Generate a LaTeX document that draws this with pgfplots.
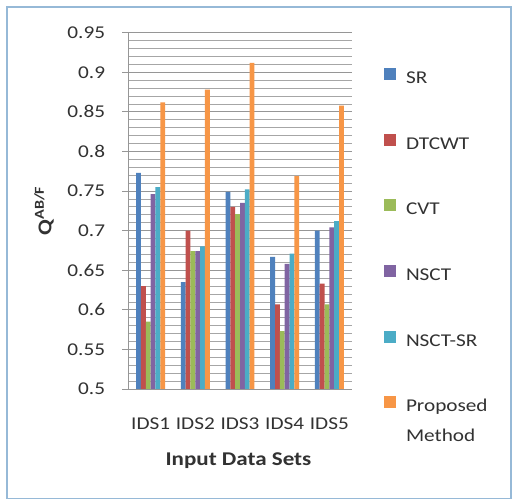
\documentclass[border=0pt]{standalone}
\usepackage{fontspec}
\setmainfont[FakeStretch=1.18]{Carlito}
\usepackage{pgfplots}
\pgfplotsset{compat=1.18}

\definecolor{cSR}{HTML}{4F81BD}
\definecolor{cDTCWT}{HTML}{C0504D}
\definecolor{cCVT}{HTML}{9BBB59}
\definecolor{cNSCT}{HTML}{8064A2}
\definecolor{cNSCTSR}{HTML}{4BACC6}
\definecolor{cProp}{HTML}{F79646}
\definecolor{frameblue}{RGB}{150,185,215}
\definecolor{gridgray}{RGB}{150,150,150}
\definecolor{textgray}{RGB}{50,50,50}

\newcommand{\chartfont}{\fontsize{18bp}{21bp}\selectfont}

\begin{document}
\begin{tikzpicture}[x=1bp,y=1bp]
\useasboundingbox (0,0) rectangle (517,501);
\fill[white] (0,0) rectangle (517,501);
\draw[frameblue, line width=1.3bp] (7,2.5) rectangle (511,494);
\begin{axis}[
  at={(128.3bp,112bp)}, anchor=south west,
  scale only axis, width=223.4bp, height=356.3bp,
  xmin=-0.5, xmax=4.5, ymin=0.5, ymax=0.95,
  xtick={0,1,2,3,4},
  xticklabels={IDS1,IDS2,IDS3,IDS4,IDS5},
  ytick={0.5,0.55,0.6,0.65,0.7,0.75,0.8,0.85,0.9,0.95},
  minor y tick num=4,
  ymajorgrids, yminorgrids,
  major grid style={draw=gridgray, line width=0.9bp},
  minor grid style={draw=gridgray!85, line width=0.8bp},
  axis x line*=bottom, axis y line*=left,
  axis line style={draw=gridgray, line width=0.9bp},
  xtick style={draw=none},
  ytick style={draw=gridgray, line width=0.9bp},
  tick align=outside, major tick length=6bp, minor tick length=0pt,
  /pgf/number format/assume math mode=true,
  yticklabel style={/pgf/number format/fixed, /pgf/number format/precision=2,
    font=\chartfont, text=textgray, anchor=east, inner sep=0pt, xshift=-17bp},
  xticklabel style={font=\chartfont, text=textgray, anchor=base, inner sep=0pt, yshift=-35bp},
  xlabel={\textbf{Input Data Sets}},
  xlabel style={font=\fontsize{19.5bp}{22bp}\selectfont, text=textgray,
    at={(axis description cs:0.493,-0.202)}, anchor=center},
  ylabel={\textbf{Q\textsuperscript{AB/F}}},
  ylabel style={font=\fontsize{19.5bp}{22bp}\selectfont, text=textgray,
    at={(axis description cs:-0.377,0.5)}, anchor=center},
  ybar, bar width=0.108,
  legend cell align=left,
  legend image code/.code={\fill[#1] (0bp,-1bp) rectangle (12bp,11bp);},
  legend style={draw=none, fill=none, inner sep=0pt, outer sep=0pt,
    at={(axis description cs:1.1446,0.901)}, anchor=north west,
    font=\chartfont, text=textgray, column sep=10bp, row sep=47.2bp,
    nodes={inner sep=0pt, text height=12bp, text depth=3bp}},
]
\addplot[fill=cSR, draw=none, bar shift=-0.27] coordinates
  {(0,0.773) (1,0.635) (2,0.749) (3,0.667) (4,0.700)};
\addplot[fill=cDTCWT, draw=none, bar shift=-0.162] coordinates
  {(0,0.630) (1,0.700) (2,0.730) (3,0.607) (4,0.633)};
\addplot[fill=cCVT, draw=none, bar shift=-0.054] coordinates
  {(0,0.585) (1,0.674) (2,0.721) (3,0.573) (4,0.607)};
\addplot[fill=cNSCT, draw=none, bar shift=0.054] coordinates
  {(0,0.746) (1,0.674) (2,0.735) (3,0.658) (4,0.704)};
\addplot[fill=cNSCTSR, draw=none, bar shift=0.162] coordinates
  {(0,0.755) (1,0.680) (2,0.752) (3,0.671) (4,0.712)};
\addplot[fill=cProp, draw=none, bar shift=0.27] coordinates
  {(0,0.862) (1,0.878) (2,0.912) (3,0.769) (4,0.858)};
\legend{SR,DTCWT,CVT,NSCT,NSCT-SR,{\parbox[t]{90bp}{\baselineskip=30bp Proposed\\Method}}}
\end{axis}
\end{tikzpicture}
\end{document}
